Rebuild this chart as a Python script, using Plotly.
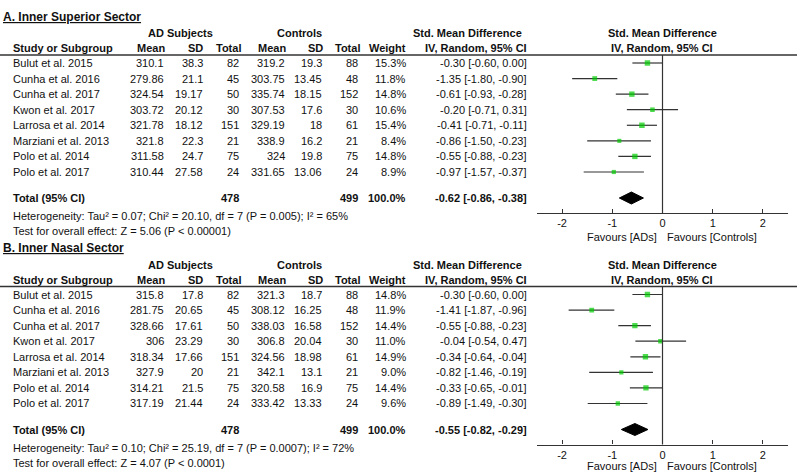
import plotly.graph_objects as go

W, H = 800, 473

studies = ["Bulut et al. 2015", "Cunha et al. 2016", "Cunha et al. 2017", "Kwon et al. 2017",
           "Larrosa et al. 2014", "Marziani et al. 2013", "Polo et al. 2014", "Polo et al. 2017"]

# Panel A: Inner Superior Sector
ad_mean_A = ["310.1", "279.86", "324.54", "303.72", "321.78", "321.8", "311.58", "310.44"]
ad_sd_A = ["38.3", "21.1", "19.17", "20.12", "18.12", "22.3", "24.7", "27.58"]
ad_n_A = [82, 45, 50, 30, 151, 21, 75, 24]
ct_mean_A = ["319.2", "303.75", "335.74", "307.53", "329.19", "338.9", "324", "331.65"]
ct_sd_A = ["19.3", "13.45", "18.15", "17.6", "18", "16.2", "19.8", "13.06"]
ct_n_A = [88, 48, 152, 30, 61, 21, 75, 24]
weight_A = [15.3, 11.8, 14.8, 10.6, 15.4, 8.4, 14.8, 8.9]
smd_A = [-0.30, -1.35, -0.61, -0.20, -0.41, -0.86, -0.55, -0.97]
lo_A = [-0.60, -1.80, -0.93, -0.71, -0.71, -1.50, -0.88, -1.57]
hi_A = [0.00, -0.90, -0.28, 0.31, -0.11, -0.23, -0.23, -0.37]
total_A = {"ad_n": 478, "ct_n": 499, "smd": -0.62, "lo": -0.86, "hi": -0.38}
het_A = "Heterogeneity: Tau² = 0.07; Chi² = 20.10, df = 7 (P = 0.005); I² = 65%"
test_A = "Test for overall effect: Z = 5.06 (P < 0.00001)"

# Panel B: Inner Nasal Sector
ad_mean_B = ["315.8", "281.75", "328.66", "306", "318.34", "327.9", "314.21", "317.19"]
ad_sd_B = ["17.8", "20.65", "17.61", "23.29", "17.66", "20", "21.5", "21.44"]
ad_n_B = [82, 45, 50, 30, 151, 21, 75, 24]
ct_mean_B = ["321.3", "308.12", "338.03", "306.8", "324.56", "342.1", "320.58", "333.42"]
ct_sd_B = ["18.7", "16.25", "16.58", "20.04", "18.98", "13.1", "16.9", "13.33"]
ct_n_B = [88, 48, 152, 30, 61, 21, 75, 24]
weight_B = [14.8, 11.9, 14.4, 11.0, 14.9, 9.0, 14.4, 9.6]
smd_B = [-0.30, -1.41, -0.55, -0.04, -0.34, -0.82, -0.33, -0.89]
lo_B = [-0.60, -1.87, -0.88, -0.54, -0.64, -1.46, -0.65, -1.49]
hi_B = [0.00, -0.96, -0.23, 0.47, -0.04, -0.19, -0.01, -0.30]
total_B = {"ad_n": 478, "ct_n": 499, "smd": -0.55, "lo": -0.82, "hi": -0.29}
het_B = "Heterogeneity: Tau² = 0.10; Chi² = 25.19, df = 7 (P = 0.0007); I² = 72%"
test_B = "Test for overall effect: Z = 4.07 (P < 0.0001)"

tick_vals = [-2, -1, 0, 1, 2]
tick_text = ["-2", "-1", "0", "1", "2"]

FONT = "Liberation Sans, Arial, sans-serif"
TXT = "#111111"
LINE = "#333333"
GREEN = "#00cc00"

SP = 15.57      # row spacing (px)
ROW0 = 63       # first study row (px)
TOTAL_ROW = (198 - 63) / SP


def px(x):
    return x / W


def py(y):
    return 1 - y / H


fig = go.Figure()
annotations = []
shapes = []


def ann(text, x, y, anchor="right", size=11, bold=False):
    if bold:
        text = "<b>" + text + "</b>"
    annotations.append(dict(text=text, x=px(x), y=py(y), xref="paper", yref="paper",
                            xanchor=anchor, yanchor="middle", showarrow=False,
                            borderpad=0, borderwidth=0,
                            font=dict(family=FONT, size=size, color=TXT)))


def ci_text(v, lo, hi):
    return f"{v:.2f} [{lo:.2f}, {hi:.2f}]"


panels = [
    dict(off=0, title="A. Inner Superior Sector", ad_mean=ad_mean_A, ad_sd=ad_sd_A, ad_n=ad_n_A,
         ct_mean=ct_mean_A, ct_sd=ct_sd_A, ct_n=ct_n_A, w=weight_A, smd=smd_A, lo=lo_A, hi=hi_A,
         tot=total_A, het=het_A, test=test_A, xa="x", ya="y", fav=237),
    dict(off=231.5, title="B. Inner Nasal Sector", ad_mean=ad_mean_B, ad_sd=ad_sd_B, ad_n=ad_n_B,
         ct_mean=ct_mean_B, ct_sd=ct_sd_B, ct_n=ct_n_B, w=weight_B, smd=smd_B, lo=lo_B, hi=hi_B,
         tot=total_B, het=het_B, test=test_B, xa="x2", ya="y2", fav=466),
]

layout_axes = {}
for k, p in enumerate(panels):
    o = p["off"]
    # title and headers
    ann("<u>" + p["title"] + "</u>", 3, 17 + o, anchor="left", size=12, bold=True)
    ann("AD Subjects", 180, 33 + o, anchor="center", bold=True)
    ann("Controls", 299, 33 + o, anchor="center", bold=True)
    ann("Std. Mean Difference", 467.5, 33 + o, anchor="center", bold=True)
    ann("Std. Mean Difference", 662, 33 + o, anchor="center", bold=True)
    ann("Study or Subgroup", 13, 48 + o, anchor="left", bold=True)
    for txt, xr in [("Mean", 165), ("SD", 203), ("Total", 241), ("Mean", 286), ("SD", 323),
                    ("Total", 360), ("Weight", 406), ("IV, Random, 95% CI", 527)]:
        ann(txt, xr, 48 + o, bold=True)
    ann("IV, Random, 95% CI", 662, 48 + o, anchor="center", bold=True)
    shapes.append(dict(type="line", xref="paper", yref="paper", x0=0, x1=px(797),
                       y0=py(55 + o), y1=py(55 + o), line=dict(color=LINE, width=1.3)))

    # study rows
    for i, name in enumerate(studies):
        y = ROW0 + i * SP + o
        ann(name, 13, y, anchor="left")
        ann(p["ad_mean"][i], 164, y)
        ann(p["ad_sd"][i], 203, y)
        ann(str(p["ad_n"][i]), 239, y)
        ann(p["ct_mean"][i], 285, y)
        ann(p["ct_sd"][i], 322, y)
        ann(str(p["ct_n"][i]), 358, y)
        ann(f"{p['w'][i]:.1f}%", 406, y)
        ann(ci_text(p["smd"][i], p["lo"][i], p["hi"][i]), 527, y)

    # total row
    yt = 198 + o
    t = p["tot"]
    ann("Total (95% CI)", 13, yt, anchor="left", bold=True)
    ann(str(t["ad_n"]), 239, yt, bold=True)
    ann(str(t["ct_n"]), 358, yt, bold=True)
    ann(f"{sum(p['w']):.1f}%", 406, yt, bold=True)
    ann(ci_text(t["smd"], t["lo"], t["hi"]), 527, yt, bold=True)
    ann(p["het"], 13, 216 + o, anchor="left")
    ann(p["test"], 13, 231 + o, anchor="left")
    ann("Favours [ADs]", 657, p["fav"], anchor="right")
    ann("Favours [Controls]", 667, p["fav"], anchor="left")

    # forest plot traces
    xs, ys = [], []
    for i in range(len(studies)):
        xs += [p["lo"][i], p["hi"][i], None]
        ys += [i, i, None]
    fig.add_trace(go.Scatter(x=xs, y=ys, mode="lines", line=dict(color=LINE, width=1.2),
                             xaxis=p["xa"], yaxis=p["ya"], showlegend=False, hoverinfo="skip"))
    fig.add_trace(go.Scatter(x=p["smd"], y=list(range(len(studies))), mode="markers",
                             marker=dict(symbol="square", color=GREEN,
                                         size=[w ** 0.5 * 1.4 for w in p["w"]], line=dict(width=0)),
                             xaxis=p["xa"], yaxis=p["ya"], showlegend=False))
    h = 6 / SP
    fig.add_trace(go.Scatter(x=[t["lo"], t["smd"], t["hi"], t["smd"], t["lo"]],
                             y=[TOTAL_ROW, TOTAL_ROW - h, TOTAL_ROW, TOTAL_ROW + h, TOTAL_ROW],
                             mode="lines", fill="toself", fillcolor="#000000",
                             line=dict(color="#000000", width=1),
                             xaxis=p["xa"], yaxis=p["ya"], showlegend=False))
    shapes.append(dict(type="line", xref=p["xa"], yref=p["ya"] + " domain", x0=0, x1=0, y0=0, y1=1,
                       line=dict(color=LINE, width=1.2)))

    top, bot = 55 + o, 213 + o
    xkey = "xaxis" if k == 0 else "xaxis2"
    ykey = "yaxis" if k == 0 else "yaxis2"
    layout_axes[xkey] = dict(domain=[px(537), px(788)], range=[-2.5, 2.5], anchor=p["ya"],
                             showline=True, linecolor=LINE, linewidth=1.3, ticks="inside",
                             ticklen=4, tickcolor=LINE, tickwidth=1.2, tickvals=tick_vals,
                             ticktext=tick_text, showgrid=False, zeroline=False,
                             tickfont=dict(family=FONT, size=11, color=TXT), fixedrange=True)
    layout_axes[ykey] = dict(domain=[py(bot), py(top)],
                             range=[(bot - o - ROW0) / SP, (top - o - ROW0) / SP],
                             anchor=p["xa"], visible=False, showgrid=False, zeroline=False,
                             fixedrange=True)
    # lower half of tick marks (ticks crossing the axis line)
    xkey_dn = "xaxis3" if k == 0 else "xaxis4"
    layout_axes[xkey_dn] = dict(domain=[px(537), px(788)], range=[-2.5, 2.5], anchor=p["ya"],
                                overlaying=p["xa"], side="bottom", ticks="outside", ticklen=4,
                                tickcolor=LINE, tickwidth=1.2, tickvals=tick_vals,
                                showticklabels=False, showgrid=False, zeroline=False,
                                showline=False, fixedrange=True)

fig.update_layout(width=W, height=H, margin=dict(l=0, r=0, t=0, b=0),
                  paper_bgcolor="white", plot_bgcolor="rgba(0,0,0,0)",
                  annotations=annotations, shapes=shapes, showlegend=False,
                  font=dict(family=FONT, size=11, color=TXT), **layout_axes)

fig.write_html("out.html", config={"displayModeBar": False},
               post_script="document.body.style.margin='0';document.body.style.overflow='hidden';")
